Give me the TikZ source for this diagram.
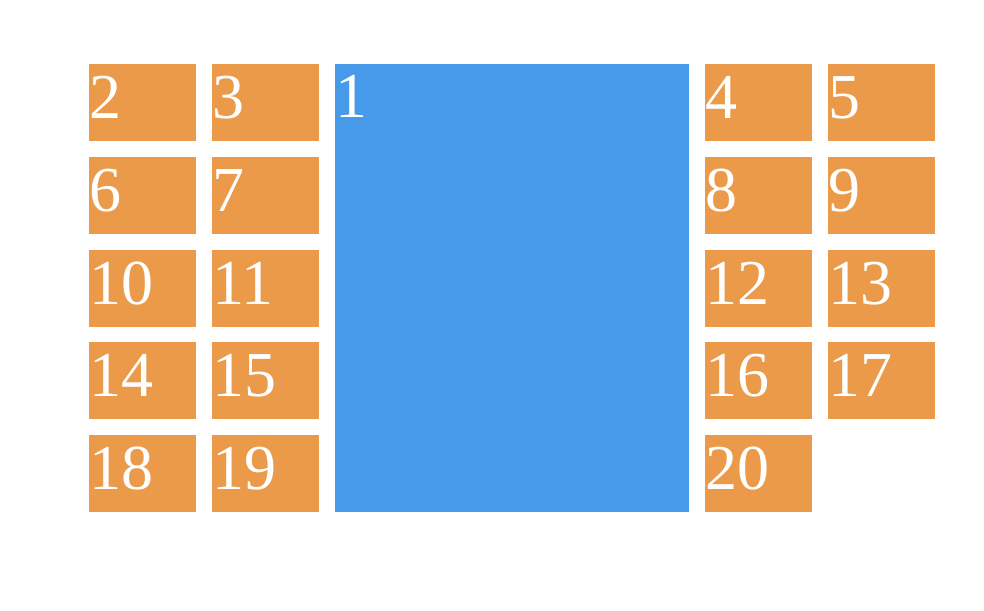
\documentclass[tikz,border=0pt]{standalone}
\usepackage{fontspec}
\setmainfont{Liberation Serif}
\definecolor{org}{RGB}{234,154,72}
\definecolor{blu}{RGB}{71,153,234}
\begin{document}
\begin{tikzpicture}[x=1pt,y=-1pt,
  cell/.style={fill=org,draw=none},
  lbl/.style={anchor=base west,inner sep=0pt,text=white,font=\fontsize{64}{64}\selectfont}]
\useasboundingbox (0,0) rectangle (984,610);
\fill[blu] (335,64) rectangle (689,512);
\node[lbl] (n1) at (335,117) {1};
\newcommand{\cellbox}[3]{%
  \fill[cell] (#1,#2) rectangle ++(107,77);
  \node[lbl] (n#3) at (#1,#2+54) {#3};}
\cellbox{89}{64}{2}
\cellbox{212}{64}{3}
\cellbox{705}{64}{4}
\cellbox{828}{64}{5}
\cellbox{89}{157}{6}
\cellbox{212}{157}{7}
\cellbox{705}{157}{8}
\cellbox{828}{157}{9}
\cellbox{89}{250}{10}
\cellbox{212}{250}{11}
\cellbox{705}{250}{12}
\cellbox{828}{250}{13}
\cellbox{89}{342}{14}
\cellbox{212}{342}{15}
\cellbox{705}{342}{16}
\cellbox{828}{342}{17}
\cellbox{89}{435}{18}
\cellbox{212}{435}{19}
\cellbox{705}{435}{20}
\end{tikzpicture}
\end{document}
